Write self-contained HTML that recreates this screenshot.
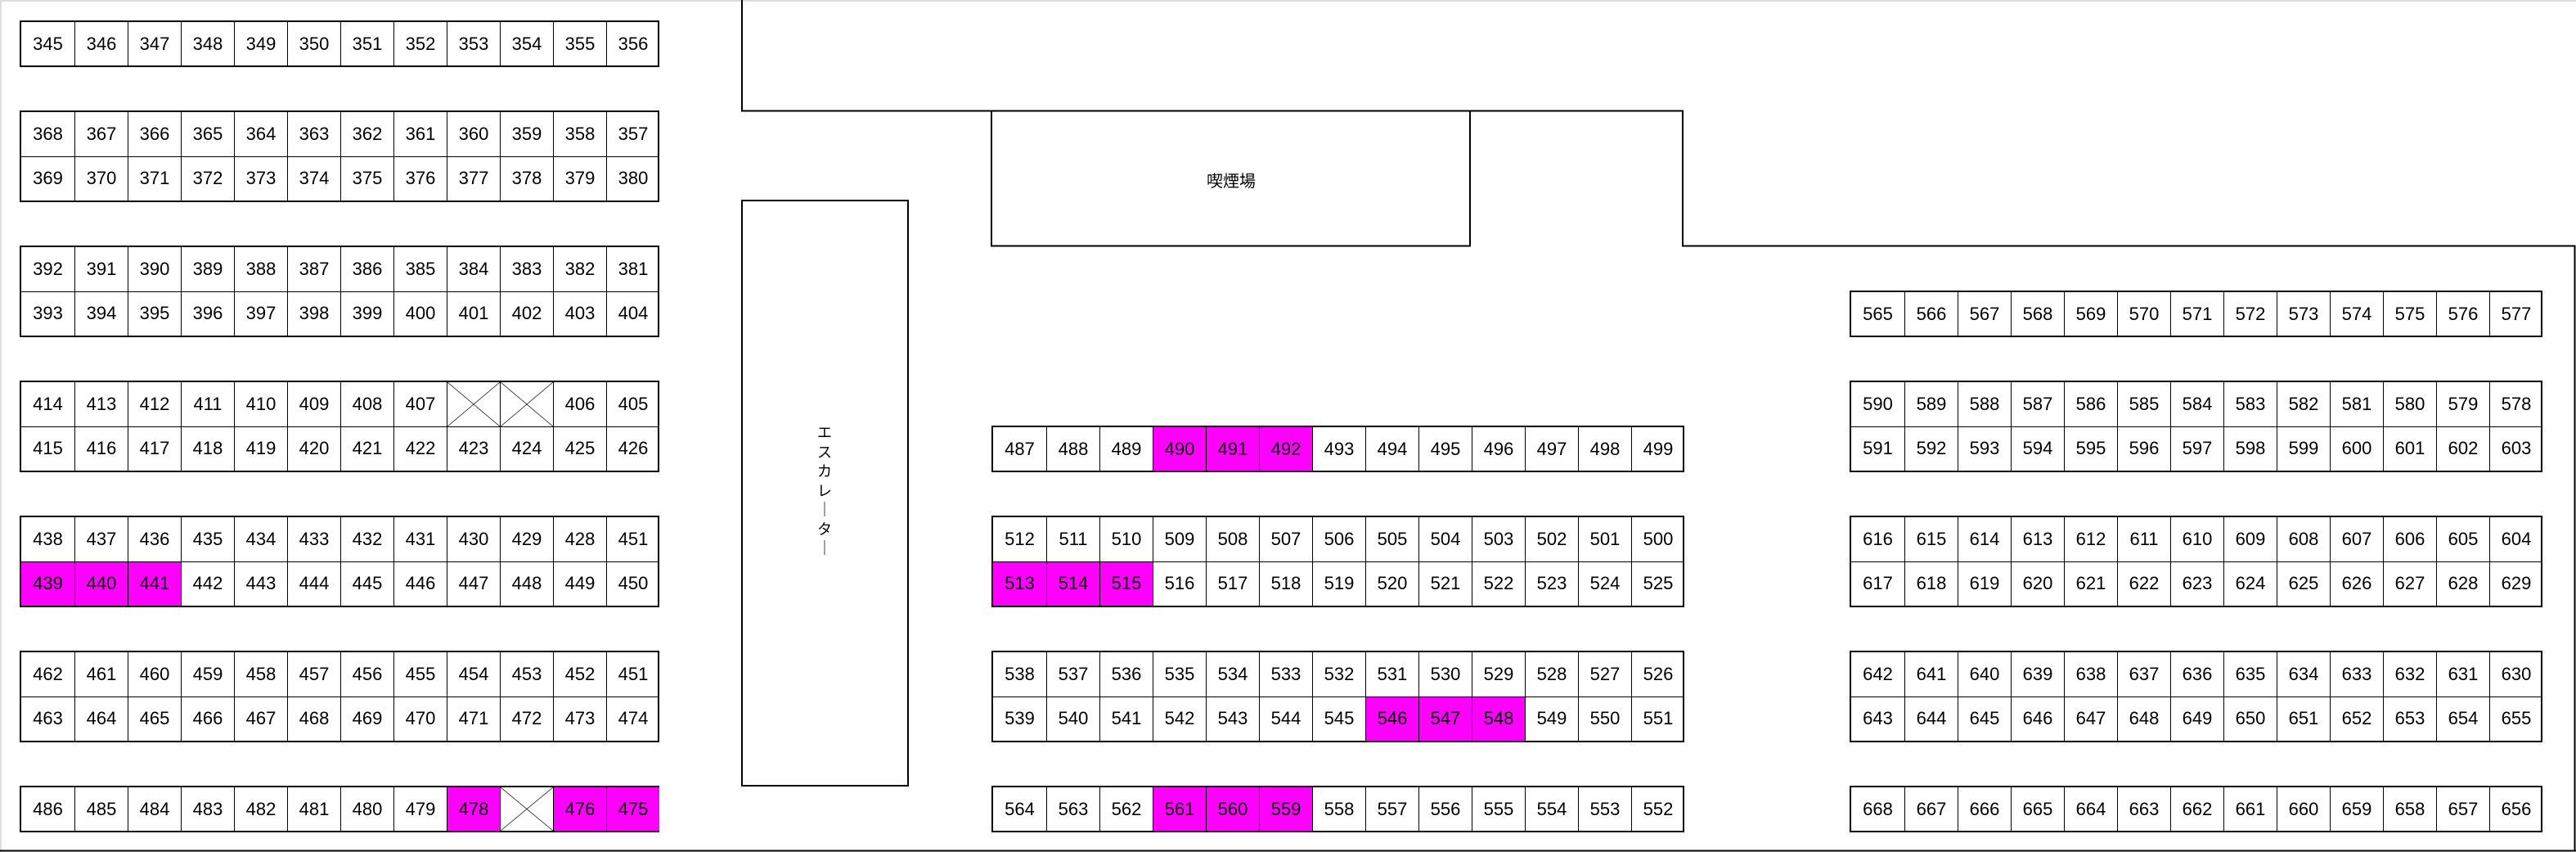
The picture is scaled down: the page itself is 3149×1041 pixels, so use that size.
<!DOCTYPE html>
<html><head><meta charset="utf-8">
<style>
html,body{margin:0;padding:0;background:#fff;}
body{width:3149px;height:1041px;position:relative;overflow:hidden;font-family:"Liberation Sans","Noto Sans CJK JP",sans-serif;}
.g{position:absolute;border:2px solid #000;box-sizing:border-box;display:flex;flex-direction:column;background:#fff;}
.r{display:flex;height:55px;}
.r+.r{border-top:1px solid #000;}
.r span{flex:0 0 65px;width:65px;box-sizing:border-box;border-left:1px solid #000;display:flex;align-items:center;justify-content:center;font-size:22px;color:#000;position:relative;}
.r span:first-child{border-left:none;}
.m{background:#ff00ff;}
.x{background:linear-gradient(to top right,transparent calc(50% - 0.7px),#000 50%,transparent calc(50% + 0.7px)),linear-gradient(to bottom right,transparent calc(50% - 0.7px),#000 50%,transparent calc(50% + 0.7px));}
svg{position:absolute;left:0;top:0;}
.lbl{position:absolute;font-size:20px;}
</style></head><body>
<svg width="3149" height="1041">
<line x1="1" y1="0" x2="1" y2="1041" stroke="#ddd" stroke-width="2"/>
<line x1="0" y1="1" x2="3149" y2="1" stroke="#ddd" stroke-width="2"/>
<polyline points="907,0 907,135.5 2057,135.5 2057,300.5 3147.5,300.5 3147.5,1040" fill="none" stroke="#000" stroke-width="2"/>
<line x1="0" y1="1039.5" x2="3149" y2="1039.5" stroke="#000" stroke-width="2"/>
<rect x="1212" y="135.5" width="585" height="165" fill="none" stroke="#000" stroke-width="2"/>
<rect x="907" y="245" width="203" height="715" fill="none" stroke="#000" stroke-width="2"/>
</svg>
<div class="lbl" style="left:1475px;top:205px;">喫煙場</div>
<div class="lbl" style="left:998px;top:518px;width:20px;font-size:18px;line-height:23.5px;text-align:center;">エ<br>ス<br>カ<br>レ<br>｜<br>タ<br>｜</div>

<!-- left column -->
<div class="g" style="left:24px;top:25px;width:782px;height:57px;"><div class="r"><span>345</span><span>346</span><span>347</span><span>348</span><span>349</span><span>350</span><span>351</span><span>352</span><span>353</span><span>354</span><span>355</span><span>356</span></div></div>
<div class="g" style="left:24px;top:135px;width:782px;height:112px;">
<div class="r"><span>368</span><span>367</span><span>366</span><span>365</span><span>364</span><span>363</span><span>362</span><span>361</span><span>360</span><span>359</span><span>358</span><span>357</span></div>
<div class="r"><span>369</span><span>370</span><span>371</span><span>372</span><span>373</span><span>374</span><span>375</span><span>376</span><span>377</span><span>378</span><span>379</span><span>380</span></div></div>
<div class="g" style="left:24px;top:300px;width:782px;height:112px;">
<div class="r"><span>392</span><span>391</span><span>390</span><span>389</span><span>388</span><span>387</span><span>386</span><span>385</span><span>384</span><span>383</span><span>382</span><span>381</span></div>
<div class="r"><span>393</span><span>394</span><span>395</span><span>396</span><span>397</span><span>398</span><span>399</span><span>400</span><span>401</span><span>402</span><span>403</span><span>404</span></div></div>
<div class="g" style="left:24px;top:465px;width:782px;height:112px;">
<div class="r"><span>414</span><span>413</span><span>412</span><span>411</span><span>410</span><span>409</span><span>408</span><span>407</span><span class="x"></span><span class="x"></span><span>406</span><span>405</span></div>
<div class="r"><span>415</span><span>416</span><span>417</span><span>418</span><span>419</span><span>420</span><span>421</span><span>422</span><span>423</span><span>424</span><span>425</span><span>426</span></div></div>
<div class="g" style="left:24px;top:630px;width:782px;height:112px;">
<div class="r"><span>438</span><span>437</span><span>436</span><span>435</span><span>434</span><span>433</span><span>432</span><span>431</span><span>430</span><span>429</span><span>428</span><span>451</span></div>
<div class="r"><span class="m">439</span><span class="m">440</span><span class="m">441</span><span>442</span><span>443</span><span>444</span><span>445</span><span>446</span><span>447</span><span>448</span><span>449</span><span>450</span></div></div>
<div class="g" style="left:24px;top:795px;width:782px;height:112px;">
<div class="r"><span>462</span><span>461</span><span>460</span><span>459</span><span>458</span><span>457</span><span>456</span><span>455</span><span>454</span><span>453</span><span>452</span><span>451</span></div>
<div class="r"><span>463</span><span>464</span><span>465</span><span>466</span><span>467</span><span>468</span><span>469</span><span>470</span><span>471</span><span>472</span><span>473</span><span>474</span></div></div>
<div class="g" style="left:24px;top:960px;width:782px;height:57px;"><div class="r"><span>486</span><span>485</span><span>484</span><span>483</span><span>482</span><span>481</span><span>480</span><span>479</span><span class="m">478</span><span class="x"></span><span class="m">476</span><span class="m">475</span></div></div>

<!-- middle column -->
<div class="g" style="left:1212px;top:520px;width:847px;height:57px;"><div class="r"><span>487</span><span>488</span><span>489</span><span class="m">490</span><span class="m">491</span><span class="m">492</span><span>493</span><span>494</span><span>495</span><span>496</span><span>497</span><span>498</span><span>499</span></div></div>
<div class="g" style="left:1212px;top:630px;width:847px;height:112px;">
<div class="r"><span>512</span><span>511</span><span>510</span><span>509</span><span>508</span><span>507</span><span>506</span><span>505</span><span>504</span><span>503</span><span>502</span><span>501</span><span>500</span></div>
<div class="r"><span class="m">513</span><span class="m">514</span><span class="m">515</span><span>516</span><span>517</span><span>518</span><span>519</span><span>520</span><span>521</span><span>522</span><span>523</span><span>524</span><span>525</span></div></div>
<div class="g" style="left:1212px;top:795px;width:847px;height:112px;">
<div class="r"><span>538</span><span>537</span><span>536</span><span>535</span><span>534</span><span>533</span><span>532</span><span>531</span><span>530</span><span>529</span><span>528</span><span>527</span><span>526</span></div>
<div class="r"><span>539</span><span>540</span><span>541</span><span>542</span><span>543</span><span>544</span><span>545</span><span class="m">546</span><span class="m">547</span><span class="m">548</span><span>549</span><span>550</span><span>551</span></div></div>
<div class="g" style="left:1212px;top:960px;width:847px;height:57px;"><div class="r"><span>564</span><span>563</span><span>562</span><span class="m">561</span><span class="m">560</span><span class="m">559</span><span>558</span><span>557</span><span>556</span><span>555</span><span>554</span><span>553</span><span>552</span></div></div>

<!-- right column -->
<div class="g" style="left:2261px;top:355px;width:847px;height:57px;"><div class="r"><span>565</span><span>566</span><span>567</span><span>568</span><span>569</span><span>570</span><span>571</span><span>572</span><span>573</span><span>574</span><span>575</span><span>576</span><span>577</span></div></div>
<div class="g" style="left:2261px;top:465px;width:847px;height:112px;">
<div class="r"><span>590</span><span>589</span><span>588</span><span>587</span><span>586</span><span>585</span><span>584</span><span>583</span><span>582</span><span>581</span><span>580</span><span>579</span><span>578</span></div>
<div class="r"><span>591</span><span>592</span><span>593</span><span>594</span><span>595</span><span>596</span><span>597</span><span>598</span><span>599</span><span>600</span><span>601</span><span>602</span><span>603</span></div></div>
<div class="g" style="left:2261px;top:630px;width:847px;height:112px;">
<div class="r"><span>616</span><span>615</span><span>614</span><span>613</span><span>612</span><span>611</span><span>610</span><span>609</span><span>608</span><span>607</span><span>606</span><span>605</span><span>604</span></div>
<div class="r"><span>617</span><span>618</span><span>619</span><span>620</span><span>621</span><span>622</span><span>623</span><span>624</span><span>625</span><span>626</span><span>627</span><span>628</span><span>629</span></div></div>
<div class="g" style="left:2261px;top:795px;width:847px;height:112px;">
<div class="r"><span>642</span><span>641</span><span>640</span><span>639</span><span>638</span><span>637</span><span>636</span><span>635</span><span>634</span><span>633</span><span>632</span><span>631</span><span>630</span></div>
<div class="r"><span>643</span><span>644</span><span>645</span><span>646</span><span>647</span><span>648</span><span>649</span><span>650</span><span>651</span><span>652</span><span>653</span><span>654</span><span>655</span></div></div>
<div class="g" style="left:2261px;top:960px;width:847px;height:57px;"><div class="r"><span>668</span><span>667</span><span>666</span><span>665</span><span>664</span><span>663</span><span>662</span><span>661</span><span>660</span><span>659</span><span>658</span><span>657</span><span>656</span></div></div>
</body></html>
